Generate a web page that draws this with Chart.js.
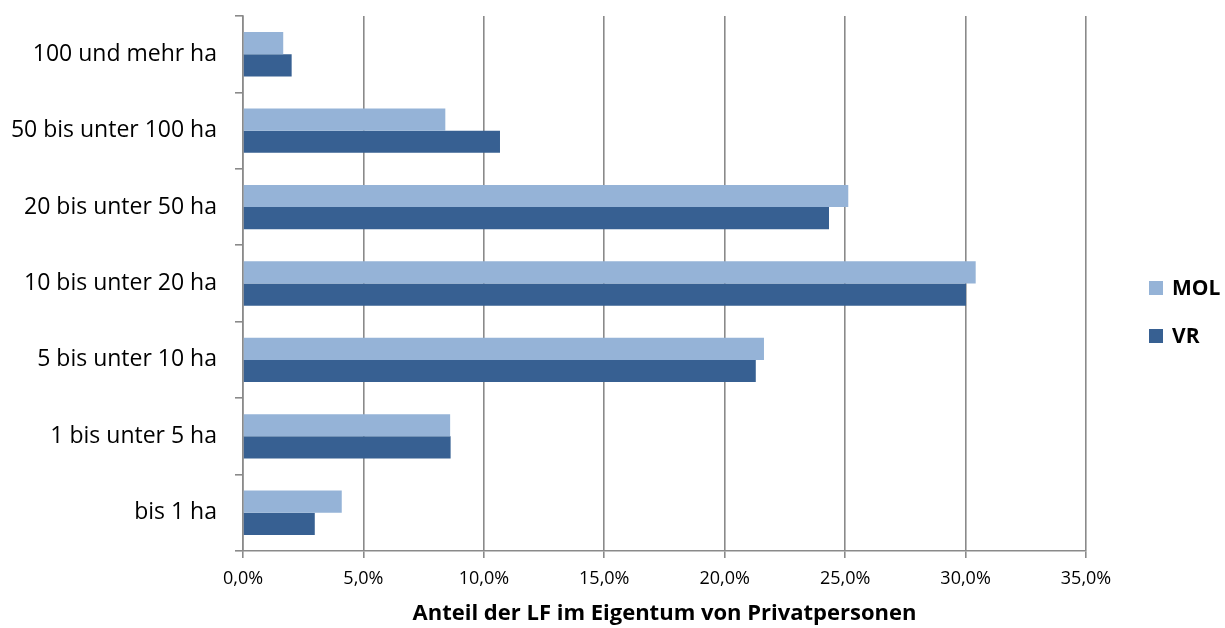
<!DOCTYPE html>
<html lang="de">
<head>
<meta charset="utf-8">
<script src="https://cdn.jsdelivr.net/npm/chart.js@4/dist/chart.umd.min.js"></script>
<style>
  html, body { margin: 0; padding: 0; background: #ffffff; }
  #wrap { width: 1225px; height: 628px; position: relative; }
</style>
</head>
<body>
<div id="wrap"><canvas id="chart" width="1225" height="628"></canvas></div>
<script>
// Größenklassen (oben nach unten)
const categories = [
  "100 und mehr ha",
  "50 bis unter 100 ha",
  "20 bis unter 50 ha",
  "10 bis unter 20 ha",
  "5 bis unter 10 ha",
  "1 bis unter 5 ha",
  "bis 1 ha"
];

// Anteil der LF im Eigentum von Privatpersonen, in %
const seriesNames = ["MOL", "VR"];
const molValues = [1.67, 8.40, 25.13, 30.42, 21.63, 8.60, 4.10];
const vrValues  = [2.02, 10.67, 24.33, 30.02, 21.29, 8.62, 2.98];

const axisTicks = [0, 5, 10, 15, 20, 25, 30, 35];
const axisTitle = "Anteil der LF im Eigentum von Privatpersonen";

const FONT = "'Open Sans', 'Noto Sans', sans-serif";
const GRID = "#8a8a8a";

// Legende rechts neben dem Diagramm
const sideLegend = {
  id: "sideLegend",
  afterDraw(chart) {
    const ctx = chart.ctx;
    const x0 = 1149;
    const rows = [288, 336];
    ctx.save();
    ctx.font = "bold 21px " + FONT;
    ctx.textBaseline = "middle";
    ctx.textAlign = "left";
    chart.data.datasets.forEach((ds, i) => {
      const cy = rows[i];
      ctx.fillStyle = ds.backgroundColor;
      ctx.fillRect(x0, cy - 7, 14, 14);
      ctx.fillStyle = "#000000";
      ctx.fillText(ds.label, x0 + 23, cy + 1);
    });
    ctx.restore();
  }
};

new Chart(document.getElementById("chart"), {
  type: "bar",
  data: {
    labels: categories,
    datasets: [
      { label: seriesNames[0], data: molValues, backgroundColor: "#95b3d7" },
      { label: seriesNames[1], data: vrValues,  backgroundColor: "#376092" }
    ]
  },
  plugins: [sideLegend],
  options: {
    indexAxis: "y",
    responsive: false,
    animation: false,
    layout: { padding: { top: 16, right: 139, left: 0, bottom: 0 } },
    datasets: { bar: { categoryPercentage: 0.58, barPercentage: 1.0 } },
    plugins: { legend: { display: false }, tooltip: { enabled: false } },
    scales: {
      x: {
        min: 0,
        max: 35,
        afterBuildTicks(scale) { scale.ticks = axisTicks.map(v => ({ value: v })); },
        afterFit(scale) {
          scale.height = 77;
          scale.paddingLeft = 0;
          scale.paddingRight = 0;
        },
        grid: { color: GRID, lineWidth: 1.6, tickLength: 7, drawTicks: true },
        border: { color: GRID, width: 1.6 },
        ticks: {
          color: "#000000",
          font: { family: FONT, size: 18 },
          padding: 10,
          callback: v => v.toFixed(1).replace(".", ",") + "%"
        },
        title: {
          display: true,
          text: axisTitle,
          color: "#000000",
          font: { family: FONT, size: 22, weight: "bold" },
          padding: { top: 0, bottom: 1 }
        }
      },
      y: {
        afterFit(scale) {
          scale.width = 243;
          scale.paddingTop = 0;
          scale.paddingBottom = 0;
        },
        grid: { drawOnChartArea: false, color: GRID, lineWidth: 1.6, tickLength: 8, offset: true },
        border: { color: GRID, width: 1.6 },
        ticks: {
          color: "#000000",
          font: { family: FONT, size: 23 },
          padding: 18
        }
      }
    }
  }
});
</script>
</body>
</html>
